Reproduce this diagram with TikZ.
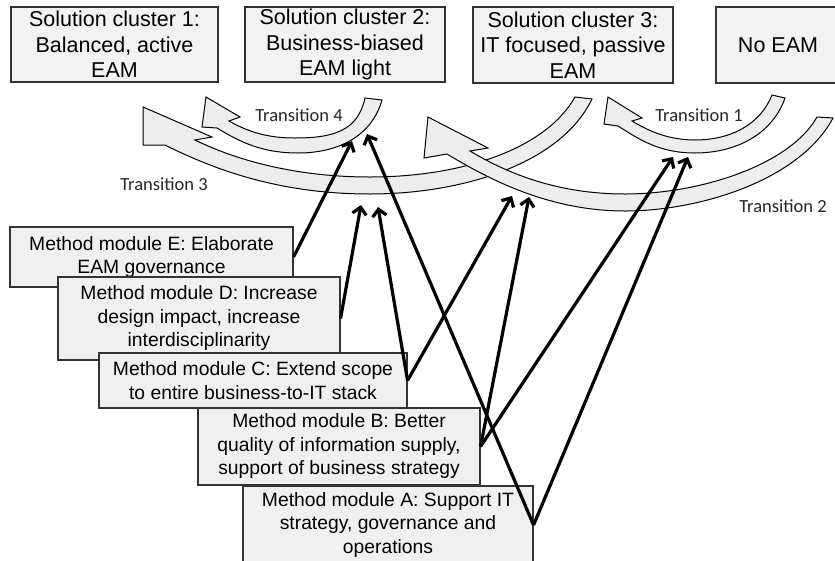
\documentclass[tikz,border=0pt]{standalone}
\usepackage{fontspec}
\setmainfont{Liberation Sans}
\newfontfamily\labelfont{Carlito}
\usetikzlibrary{arrows.meta}

\tikzset{
  cluster/.style={draw=black!80, line width=1.3pt, fill=black!5, align=center,
    inner sep=0pt, font=\fontsize{21.5}{25.5}\selectfont},
  module/.style={draw=black!80, line width=1.1pt, fill=black!6, align=center,
    inner sep=0pt, font=\fontsize{19.3}{23.5}\selectfont},
  transition/.style={draw=black, line width=1pt, fill=black!7},
  translabel/.style={font=\labelfont\fontsize{18.5}{20}\selectfont, text=black!85},
  support/.style={line width=3.2pt, -{Straight Barb[length=7pt,width=14pt]}}
}

\begin{document}
\begin{tikzpicture}[x=1pt, y=-1pt]
    \useasboundingbox (0,0) rectangle (835,560);

    % Draw the transitions
    \draw[transition] (592,99) .. controls (560,165) and (460,194) .. (370,194)
        .. controls (280,194) and (215,170) .. (165,145)
        -- (143,145) -- (143,107) -- (212,137) -- (195,140)
        .. controls (240,162) and (300,177) .. (370,177)
        .. controls (460,177) and (545,150) .. (575,97) -- cycle;
    \draw[transition] (833,118) .. controls (800,180) and (700,211) .. (625,211)
        .. controls (550,211) and (490,180) .. (447,154)
        -- (424,158) -- (428,117) -- (488,148) -- (470,151)
        .. controls (510,175) and (560,194) .. (625,194)
        .. controls (700,194) and (790,165) .. (817,117) -- cycle;
    \draw[transition] (382,100) .. controls (372,135) and (340,153) .. (298,153)
        .. controls (262,153) and (240,142) .. (217,128)
        -- (202,127) -- (206,97) -- (240,117) -- (229,121)
        .. controls (250,133) and (270,138) .. (295,138)
        .. controls (335,138) and (358,130) .. (365,98) -- cycle;
    \draw[transition] (785,98) .. controls (772,135) and (735,153) .. (695,153)
        .. controls (660,153) and (640,140) .. (618,126)
        -- (604,124) -- (608,97) -- (642,118) -- (632,121)
        .. controls (650,132) and (670,140) .. (695,140)
        .. controls (730,140) and (760,125) .. (772,95) -- cycle;

    % Place the transition labels
    \node[translabel] (lab4) at (299,115) {Transition 4};
    \node[translabel] (lab3) at (164,184) {Transition 3};
    \node[translabel] (lab1) at (699,115) {Transition 1};
    \node[translabel] (lab2) at (783,206) {Transition 2};

    % Define the points where the modules meet the transitions
    \coordinate (t4e) at (352,141);
    \coordinate (t4a) at (367,134);
    \coordinate (t3d) at (361,205);
    \coordinate (t3c) at (378,207);
    \coordinate (t2c) at (512,196);
    \coordinate (t2b) at (529,197);
    \coordinate (t1b) at (673,157);
    \coordinate (t1a) at (688,157);

    % Draw the solution clusters
    \node[cluster, minimum width=207pt, minimum height=75pt] (sc1) at (114.5,44.5)
        {Solution cluster 1:\\Balanced, active\\EAM};
    \node[cluster, minimum width=200pt, minimum height=75pt] (sc2) at (345,44.5)
        {Solution cluster 2:\\Business-biased\\EAM light};
    \node[cluster, minimum width=200pt, minimum height=76pt] (sc3) at (573,45)
        {Solution cluster 3:\\IT focused, passive\\EAM};
    \node[cluster, minimum width=124pt, minimum height=76pt] (noeam) at (778,45)
        {No EAM};

    % Draw the method modules
    \node[module, minimum width=283pt, minimum height=60pt] (modE) at (151.5,257)
        {Method module E: Elaborate\\EAM governance};
    \node[module, minimum width=282pt, minimum height=83pt] (modD) at (199,318.5)
        {Method module D: Increase\\design impact, increase\\interdisciplinarity};
    \node[module, minimum width=308pt, minimum height=55pt] (modC) at (253,380.5)
        {Method module C: Extend scope\\to entire business-to-IT stack};
    \node[module, minimum width=282pt, minimum height=77pt] (modB) at (339,446.5)
        {Method module B: Better\\quality of information supply,\\support of business strategy};
    \node[module, minimum width=290pt, minimum height=78pt] (modA) at (388,525)
        {Method module A: Support IT\\strategy, governance and\\operations};

    % Draw the arrows
    \draw[support] (modE.east) -- (t4e);
    \draw[support] (modD.east) -- (t3d);
    \draw[support] (modC.east) -- (t3c);
    \draw[support] (modC.east) -- (t2c);
    \draw[support] (modB.east) -- (t2b);
    \draw[support] (modB.east) -- (t1b);
    \draw[support] (modA.east) -- (t4a);
    \draw[support] (modA.east) -- (t1a);

\end{tikzpicture}
\end{document}
